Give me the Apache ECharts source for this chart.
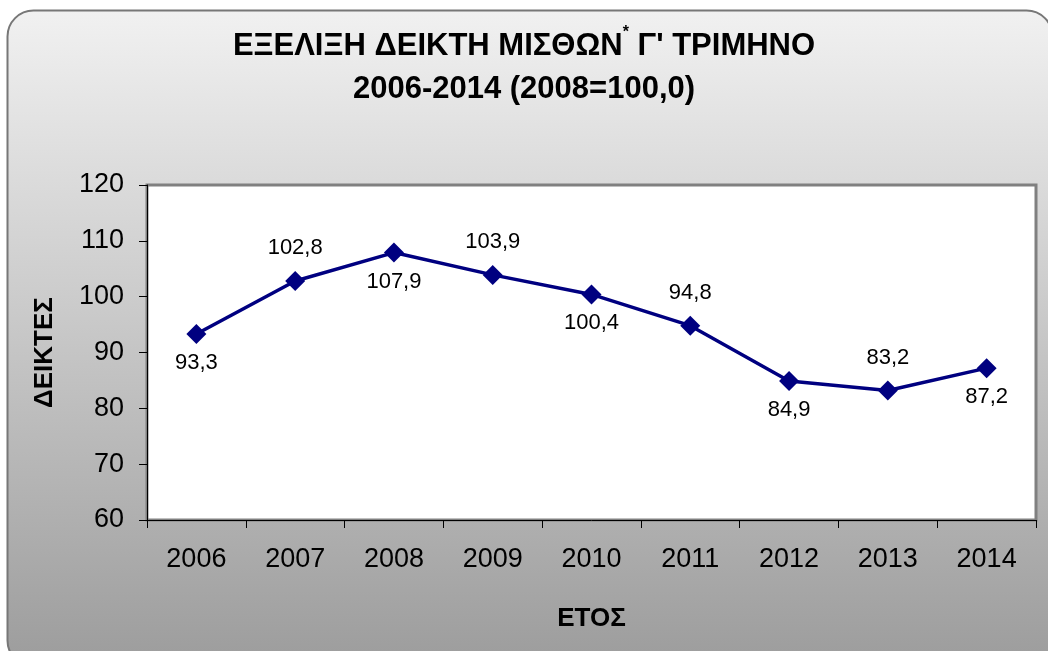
<!DOCTYPE html>
<html>
<head>
<meta charset="utf-8">
<script src="https://cdn.jsdelivr.net/npm/echarts@6/dist/echarts.min.js"></script>
<style>
  html, body { margin: 0; padding: 0; background: #fff; }
  #chart { width: 1048px; height: 651px; }
</style>
</head>
<body>
<div id="chart"></div>
<script>
const years = ['2006', '2007', '2008', '2009', '2010', '2011', '2012', '2013', '2014']
const wageIndex = [93.3, 102.8, 107.9, 103.9, 100.4, 94.8, 84.9, 83.2, 87.2]
const yTicks = { min: 60, max: 120, interval: 10 }

const chart = echarts.init(document.getElementById('chart'))
const font = '"Liberation Sans", Arial, sans-serif'

// labels alternate below / above the points like in the original
const points = wageIndex.map((v, i) => ({
  value: v,
  label: { position: i % 2 === 0 ? 'bottom' : 'top', distance: i % 2 === 0 ? 8 : 12 }
}))

chart.setOption({
  backgroundColor: '#fff',
  textStyle: { fontFamily: font },
  graphic: [{
    type: 'rect',
    z: -10,
    silent: true,
    shape: { x: 7.5, y: 10.5, width: 1045, height: 656, r: 26 },
    style: {
      fill: new echarts.graphic.LinearGradient(0, 0, 0, 1, [
        { offset: 0, color: '#f1f1f1' },
        { offset: 1, color: '#9c9c9c' }
      ]),
      stroke: '#777',
      lineWidth: 2
    }
  }],
  title: {
    text: 'ΕΞΕΛΙΞΗ ΔΕΙΚΤΗ ΜΙΣΘΩΝ{sup|*} Γ\' ΤΡΙΜΗΝΟ\n2006-2014 (2008=100,0)',
    left: 'center',
    top: 20,
    textStyle: {
      fontFamily: font,
      fontSize: 31,
      fontWeight: 'bold',
      color: '#000',
      lineHeight: 43,
      rich: {
        sup: { fontSize: 16, fontWeight: 'bold', verticalAlign: 'top', lineHeight: 43, padding: [0, 0, 16, 0] }
      }
    }
  },
  grid: {
    left: 147,
    right: 12,
    top: 185,
    bottom: 131,
    show: true,
    backgroundColor: '#fff',
    borderColor: '#808080',
    borderWidth: 3
  },
  xAxis: {
    type: 'category',
    data: years,
    boundaryGap: true,
    name: 'ΕΤΟΣ',
    nameLocation: 'middle',
    nameGap: 86,
    nameTextStyle: { fontSize: 26, fontWeight: 'bold', color: '#000' },
    axisLine: { lineStyle: { color: '#000', width: 1 } },
    axisTick: { show: true, length: 8, lineStyle: { color: '#000' } },
    axisLabel: { fontSize: 27, color: '#000', margin: 26 }
  },
  yAxis: {
    type: 'value',
    min: yTicks.min,
    max: yTicks.max,
    interval: yTicks.interval,
    name: 'ΔΕΙΚΤΕΣ',
    nameLocation: 'middle',
    nameGap: 89,
    nameRotate: 90,
    nameTextStyle: { fontSize: 26, fontWeight: 'bold', color: '#000' },
    axisLine: { show: true, lineStyle: { color: '#000', width: 1 } },
    axisTick: { show: true, length: 8, lineStyle: { color: '#000' } },
    splitLine: { show: false },
    axisLabel: { fontSize: 27, color: '#000', margin: 23 }
  },
  series: [{
    type: 'line',
    data: points,
    symbol: 'diamond',
    symbolSize: 20,
    lineStyle: { color: '#000080', width: 3.5 },
    itemStyle: { color: '#000080' },
    label: {
      show: true,
      fontSize: 22,
      color: '#000',
      formatter: p => String(p.value).replace('.', ',')
    },
    animation: false
  }]
})
</script>
</body>
</html>
